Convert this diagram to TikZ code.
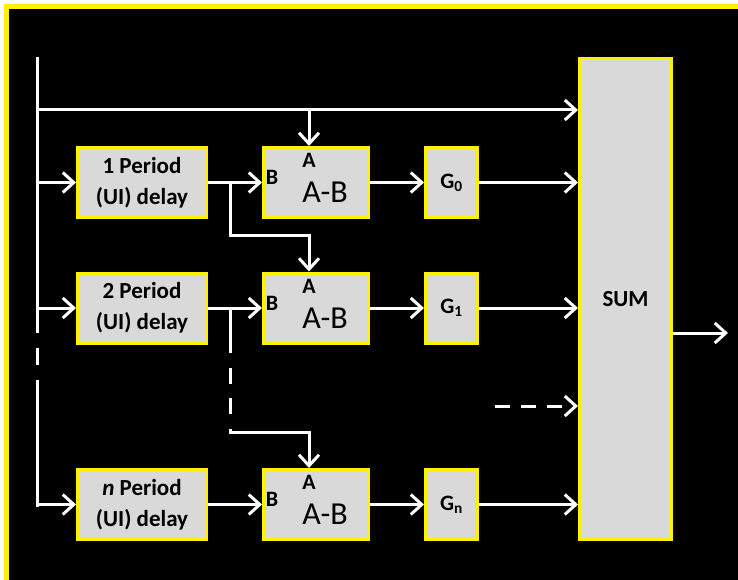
\documentclass[tikz,border=0pt]{standalone}
\usepackage{fontspec}
\setmainfont{Carlito}
\usetikzlibrary{arrows.meta, positioning, calc}
\definecolor{boxgray}{HTML}{D9D9D9}

\begin{document}
\begin{tikzpicture}
[x=1pt, y=-1pt,
->/.style={line width=3pt, white, arrows={-Straight Barb[length=11pt,width=20pt]}},
-->/.style={line width=3pt, white, dash pattern=on 15pt off 11pt, arrows={-Straight Barb[length=11pt,width=20pt]}},
   bus/.style={line width=3pt, white},
   delayB/.style={shape=rectangle, draw=yellow, line width=3pt, fill=boxgray, minimum width=129pt, minimum height=70pt, align=center, font=\bfseries\fontsize{23}{31}\selectfont},
   subB/.style={shape=rectangle, draw=yellow, line width=3pt, fill=boxgray, minimum width=105pt, minimum height=70pt},
   gainB/.style={shape=rectangle, draw=yellow, line width=3pt, fill=boxgray, minimum width=52pt, minimum height=70pt, font=\bfseries\fontsize{22}{22}\selectfont},
   sumB/.style={shape=rectangle, draw=yellow, line width=3pt, fill=boxgray, minimum width=92pt, minimum height=481pt, font=\bfseries\fontsize{23}{23}\selectfont},
   port/.style={inner sep=0pt, font=\bfseries\fontsize{22}{22}\selectfont},
   diff/.style={inner sep=0pt, font=\fontsize{32}{32}\selectfont}]
\useasboundingbox (0,0) rectangle (738,580);
\fill[white] (0,0) rectangle (738,580);
\fill[yellow] (4,4) rectangle (738,580);
\fill[black] (9,9) rectangle (738,580);
% delay chain
\node[delayB] (D1) at (142,182.5) {1 Period\\(UI) delay};
\node[delayB] (D2) at (142,308) {2 Period\\(UI) delay};
\node[delayB] (D3) at (142,504.5) {\textit{n} Period\\(UI) delay};
\node[subB] (AB1) [right=54pt of D1] {};
\node[subB] (AB2) [right=54pt of D2] {};
\node[subB] (AB3) [right=54pt of D3] {};
\node[gainB] (G0) [right=54pt of AB1] {G\textsubscript{0}};
\node[gainB] (G1) [right=54pt of AB2] {G\textsubscript{1}};
\node[gainB] (Gn) [right=54pt of AB3] {G\textsubscript{n}};
\node[sumB] (SUM) at (625.5,299) {SUM};
% subtractor labels
\node[port] (B1) at ($(AB1.center)+(-44,-5)$) {B};
\node[port] (A1) at ($(AB1.center)+(-7,-22)$) {A};
\node[diff] (AB1t) at ($(AB1.center)+(9,10)$) {A-B};
\node[port] (B2) at ($(AB2.center)+(-44,-5)$) {B};
\node[port] (A2) at ($(AB2.center)+(-7,-22)$) {A};
\node[diff] (AB2t) at ($(AB2.center)+(9,10)$) {A-B};
\node[port] (B3) at ($(AB3.center)+(-44,-5)$) {B};
\node[port] (A3) at ($(AB3.center)+(-7,-22)$) {A};
\node[diff] (AB3t) at ($(AB3.center)+(9,10)$) {A-B};
% input bus
\coordinate (in) at (37,57);
\coordinate (busEnd) at (37,507);
\draw [bus, dash pattern=on 276pt off 15pt on 17pt off 15pt on 200pt] (in) -- (busEnd);
\coordinate (top) at (37,110);
\coordinate (topA) at (309,110);
\draw [->] (top) -- (top -| SUM.west);
\draw [->] (topA) -- (topA |- AB1.north);
\draw [->] (D1.west -| in) -- (D1);
\draw [->] (D2.west -| in) -- (D2);
\draw [->] (D3.west -| in) -- (D3);
% rows
\draw [->] (D1) -- (AB1);
\draw [->] (D2) -- (AB2);
\draw [->] (D3) -- (AB3);
\draw [->] (AB1) -- (G0);
\draw [->] (AB2) -- (G1);
\draw [->] (AB3) -- (Gn);
\draw [->] (G0) -- (G0 -| SUM.west);
\draw [->] (G1) -- (G1 -| SUM.west);
\draw [->] (Gn) -- (Gn -| SUM.west);
% taps to the A inputs
\coordinate (br1) at (230,235);
\draw [->] (br1 |- D1) -- (br1) -| (topA |- AB2.north);
\coordinate (br2) at (230,432);
\draw [->, dash pattern=on 45pt off 15pt on 16pt off 14pt on 16pt off 15pt on 300pt] (br2 |- D2) -- (br2) -| (topA |- AB3.north);
\coordinate (dots) at (495,406);
\draw [-->] (dots) -- (dots -| SUM.west);
\coordinate (out) at (728,333);
\draw [->] (SUM.east |- out) -- (out);
\end{tikzpicture}
\end{document}
